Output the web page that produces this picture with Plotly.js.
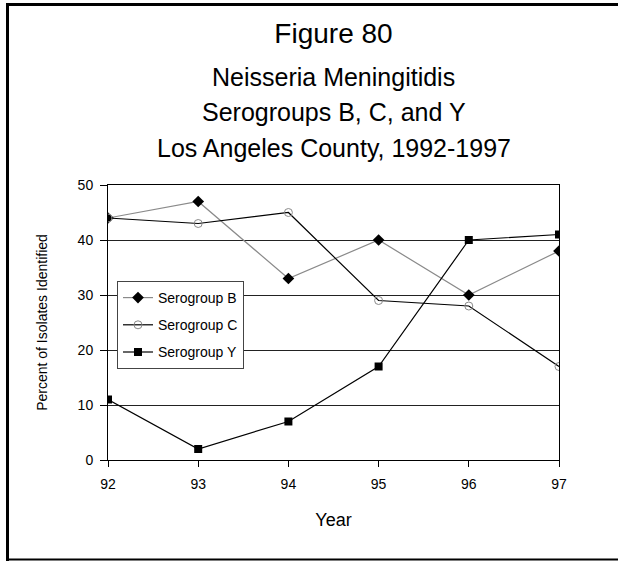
<!DOCTYPE html>
<html>
<head>
<meta charset="utf-8">
<script src="https://cdn.plot.ly/plotly-3.0.1.min.js"></script>
<style>
html,body{margin:0;padding:0;background:#fff;}
#chart{width:618px;height:561px;}
</style>
</head>
<body>
<div id="chart"></div>
<script>
const years = [92, 93, 94, 95, 96, 97];
const serogroupB = [44, 47, 33, 40, 30, 38];
const serogroupC = [44, 43, 45, 29, 28, 17];
const serogroupY = [11, 2, 7, 17, 40, 41];
const seriesNames = ['Serogroup B', 'Serogroup C', 'Serogroup Y'];
const yTicks = [0, 10, 20, 30, 40, 50];

const FONT = 'Arial, "Liberation Sans", Helvetica, sans-serif';

const traces = [
  {x: years, y: serogroupB, name: seriesNames[0], type: 'scatter', mode: 'lines+markers',
   legendgroup: 'b',
   line: {color: '#8a8a8a', width: 1.2},
   marker: {symbol: 'diamond', size: 9, color: '#000'}},
  {x: years, y: serogroupC, name: seriesNames[1], type: 'scatter', mode: 'lines+markers',
   legendgroup: 'c',
   line: {color: '#000', width: 1.2},
   marker: {symbol: 'circle-open', size: 8, color: '#8a8a8a', line: {width: 1}}},
  {x: years, y: serogroupY, name: seriesNames[2], type: 'scatter', mode: 'lines+markers',
   legendgroup: 'y',
   line: {color: '#000', width: 1.2},
   marker: {symbol: 'square', size: 8, color: '#000'}}
];

const W = 618, H = 561;
const L = 108, R = 59, T = 185, B = 101;
const pw = W - L - R, ph = H - T - B;
function px2x(px){ return (px - L) / pw; }
function py2y(py){ return (H - B - py) / ph; }

const layout = {
  width: W, height: H,
  margin: {l: L, r: R, t: T, b: B},
  paper_bgcolor: '#fff', plot_bgcolor: '#fff',
  font: {family: FONT, color: '#000', size: 14},
  showlegend: true,
  title: {text: 'Figure 80', font: {family: FONT, size: 28, color: '#000'},
          x: 0.5, xanchor: 'center', xref: 'paper', y: 1 - 33/H, yanchor: 'middle', yref: 'container'},
  xaxis: {
    range: [92, 97], tickvals: years, ticktext: years.map(String),
    showline: true, linecolor: '#000', linewidth: 1, mirror: true,
    ticks: 'outside', ticklen: 6, tickcolor: '#000', tickwidth: 1,
    showgrid: false, zeroline: false, ticklabelstandoff: 5,
    tickfont: {size: 14},
    title: {text: 'Year', font: {size: 18}, standoff: 22}
  },
  yaxis: {
    range: [0, 50], tickvals: yTicks,
    showline: true, linecolor: '#000', linewidth: 1, mirror: true,
    ticks: 'outside', ticklen: 7, tickcolor: '#000', tickwidth: 1,
    showgrid: true, gridcolor: '#222', gridwidth: 1, zeroline: false,
    ticklabelstandoff: 4,
    tickfont: {size: 14},
    title: {text: 'Percent of Isolates Identified', font: {size: 14}, standoff: 26}
  },
  legend: {
    x: px2x(117), y: py2y(281), xanchor: 'left', yanchor: 'top',
    bgcolor: '#fff', bordercolor: '#444', borderwidth: 1,
    font: {size: 14}, tracegroupgap: 6, traceorder: 'grouped', itemwidth: 30
  },
  annotations: [
    {text: 'Neisseria Meningitidis', xref: 'paper', yref: 'paper', x: 0.5, y: py2y(77),
     xanchor: 'center', yanchor: 'middle', showarrow: false, font: {size: 25}},
    {text: 'Serogroups B, C, and Y', xref: 'paper', yref: 'paper', x: 0.5, y: py2y(112),
     xanchor: 'center', yanchor: 'middle', showarrow: false, font: {size: 25}},
    {text: 'Los Angeles County, 1992-1997', xref: 'paper', yref: 'paper', x: 0.5, y: py2y(148),
     xanchor: 'center', yanchor: 'middle', showarrow: false, font: {size: 25}}
  ],
  shapes: [
    {type: 'line', xref: 'paper', yref: 'paper', x0: px2x(7.5), x1: px2x(7.5), y0: py2y(3), y1: py2y(561),
     line: {color: '#000', width: 3}},
    {type: 'line', xref: 'paper', yref: 'paper', x0: px2x(6), x1: px2x(630), y0: py2y(4.5), y1: py2y(4.5),
     line: {color: '#000', width: 3}},
    {type: 'line', xref: 'paper', yref: 'paper', x0: px2x(6), x1: px2x(630), y0: py2y(559.5), y1: py2y(559.5),
     line: {color: '#000', width: 2}}
  ]
};

Plotly.newPlot('chart', traces, layout, {displayModeBar: false, staticPlot: true});
</script>
</body>
</html>
